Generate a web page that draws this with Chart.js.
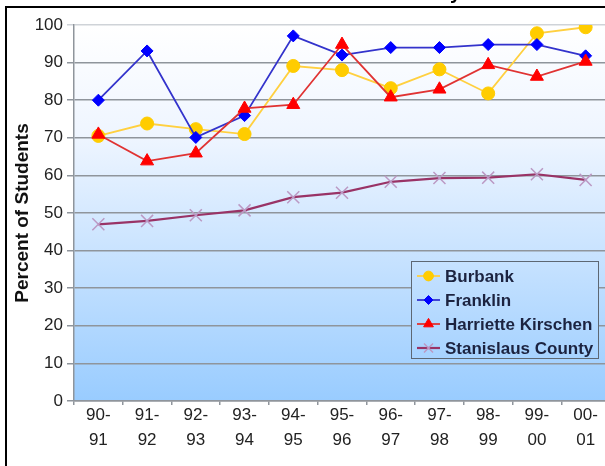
<!DOCTYPE html>
<meta charset="utf-8">
<title>Percent of Students</title>
<style>
  html, body { margin: 0; overflow: hidden; background: #fff; }
  #box { position: relative; width: 620px; height: 466px; }
</style>
<div id="box"><canvas id="chart"></canvas></div>
<script src="https://cdn.jsdelivr.net/npm/chart.js@4"></script>
<script>
  const years = [["90-", "91"], ["91-", "92"], ["92-", "93"], ["93-", "94"], ["94-", "95"], ["95-", "96"],
    ["96-", "97"], ["97-", "98"], ["98-", "99"], ["99-", "00"], ["00-", "01"]]
  const burbank = [70.5, 73.8, 72.3, 71, 89.1, 88, 83.2, 88.2, 81.8, 97.8, 99.4]
  const franklin = [80, 93.1, 70.1, 75.9, 97.1, 92, 94, 94, 94.8, 94.8, 91.8]
  const kirschen = [70.9, 63.8, 65.9, 77.8, 78.8, 94.8, 80.8, 82.9, 89.4, 86.3, 90.3]
  const county = [47, 47.9, 49.4, 50.7, 54.2, 55.4, 58.3, 59.3, 59.4, 60.3, 58.8]

  const font = "'Liberation Sans', Arial, sans-serif"

  function plotFill(ctx, area) {
    const g = ctx.createLinearGradient(0, area.top, 0, area.bottom)
    g.addColorStop(0, "#ffffff")
    g.addColorStop(0.3, "#eef5ff")
    g.addColorStop(1, "#99ccff")
    return g
  }

  const backdrop = {
    id: "backdrop",
    beforeDraw(chart) {
      const { ctx, chartArea: a } = chart
      ctx.save()
      ctx.fillStyle = plotFill(ctx, a)
      ctx.fillRect(a.left, a.top, a.right - a.left, a.bottom - a.top)
      ctx.restore()
    },
    afterDraw(chart) {
      const { ctx } = chart
      ctx.save()
      // page frame and the clipped title above it
      ctx.fillStyle = "#000"
      ctx.fillRect(5, 6, 620, 2)
      ctx.fillRect(5, 6, 2, 470)
      ctx.font = "bold 20px " + font
      ctx.textBaseline = "alphabetic"
      ctx.fillText("y", 450, -1)
      ctx.restore()
    },
  }

  const legendBox = {
    id: "legendBox",
    afterDraw(chart) {
      const { ctx, chartArea: a } = chart
      const x = 411.5, y = 261.5, w = 187, h = 97
      ctx.save()
      ctx.fillStyle = plotFill(ctx, a)
      ctx.fillRect(x, y, w, h)
      ctx.strokeStyle = "#5d6773"
      ctx.lineWidth = 1
      ctx.strokeRect(x, y, w, h)
      chart.data.datasets.forEach((ds, i) => {
        const cy = 276 + i * 24
        ctx.strokeStyle = ds.borderColor
        ctx.lineWidth = ds.borderWidth
        ctx.beginPath()
        ctx.moveTo(417, cy)
        ctx.lineTo(440, cy)
        ctx.stroke()
        ctx.fillStyle = ds.pointBackgroundColor
        ctx.strokeStyle = ds.pointBorderColor
        ctx.lineWidth = ds.pointBorderWidth
        Chart.helpers.drawPoint(ctx, { pointStyle: ds.pointStyle, radius: ds.pointRadius * 0.75, rotation: 0, borderWidth: ds.pointBorderWidth }, 428.5, cy)
        ctx.fillStyle = "#1c2340"
        ctx.font = "bold 17px " + font
        ctx.textBaseline = "middle"
        ctx.fillText(ds.label, 445, cy + 1)
      })
      ctx.restore()
    },
  }

  function series(label, data, line, mark, style, radius, order) {
    return {
      label, data, order,
      borderColor: line,
      borderWidth: 1.8,
      pointStyle: style,
      pointRadius: radius,
      pointBackgroundColor: mark,
      pointBorderColor: mark,
      pointBorderWidth: 1,
      tension: 0,
    }
  }

  const countySet = series("Stanislaus County", county, "#993366", "#bb99c4", "crossRot", 8.5, 1)
  countySet.borderWidth = 2.2
  countySet.pointBorderWidth = 1.5

  new Chart(document.getElementById("chart"), {
    type: "line",
    data: {
      labels: years,
      datasets: [
        series("Burbank", burbank, "#ffd040", "#ffcc00", "circle", 6.5, 4),
        series("Franklin", franklin, "#3333cc", "#0000ff", "rectRot", 6, 3),
        series("Harriette Kirschen", kirschen, "#e03333", "#ff0000", "triangle", 7.5, 2),
        countySet,
      ],
    },
    options: {
      responsive: true,
      maintainAspectRatio: false,
      animation: false,
      layout: { padding: { top: 25, right: 9, left: 0, bottom: 0 } },
      plugins: { legend: { display: false }, tooltip: { enabled: false } },
      scales: {
        x: {
          offset: true,
          afterFit(s) { s.height = 65 },
          grid: { offset: true, drawOnChartArea: false, tickLength: 4, color: "#8f959c", lineWidth: 1.5 },
          border: { color: "#8f959c", width: 1.5 },
          ticks: { padding: -2, color: "#222", font: { family: font, size: 17, lineHeight: 1.47 }, maxRotation: 0, autoSkip: false },
        },
        y: {
          min: 0,
          max: 100,
          afterFit(s) { s.width = 74 },
          grid: { tickLength: 7, color: c => c.tick && c.tick.value == 100 ? "#cfd3d8" : "#8f959c", lineWidth: 1.5 },
          border: { color: "#8f959c", width: 1.5 },
          ticks: { stepSize: 10, padding: 4, color: "#222", font: { family: font, size: 17 } },
          title: {
            display: true,
            text: "Percent of Students",
            color: "#111",
            padding: { top: 11, bottom: 0 },
            font: { family: font, size: 19, weight: "bold" },
          },
        },
      },
    },
    plugins: [backdrop, legendBox],
  })
</script>
